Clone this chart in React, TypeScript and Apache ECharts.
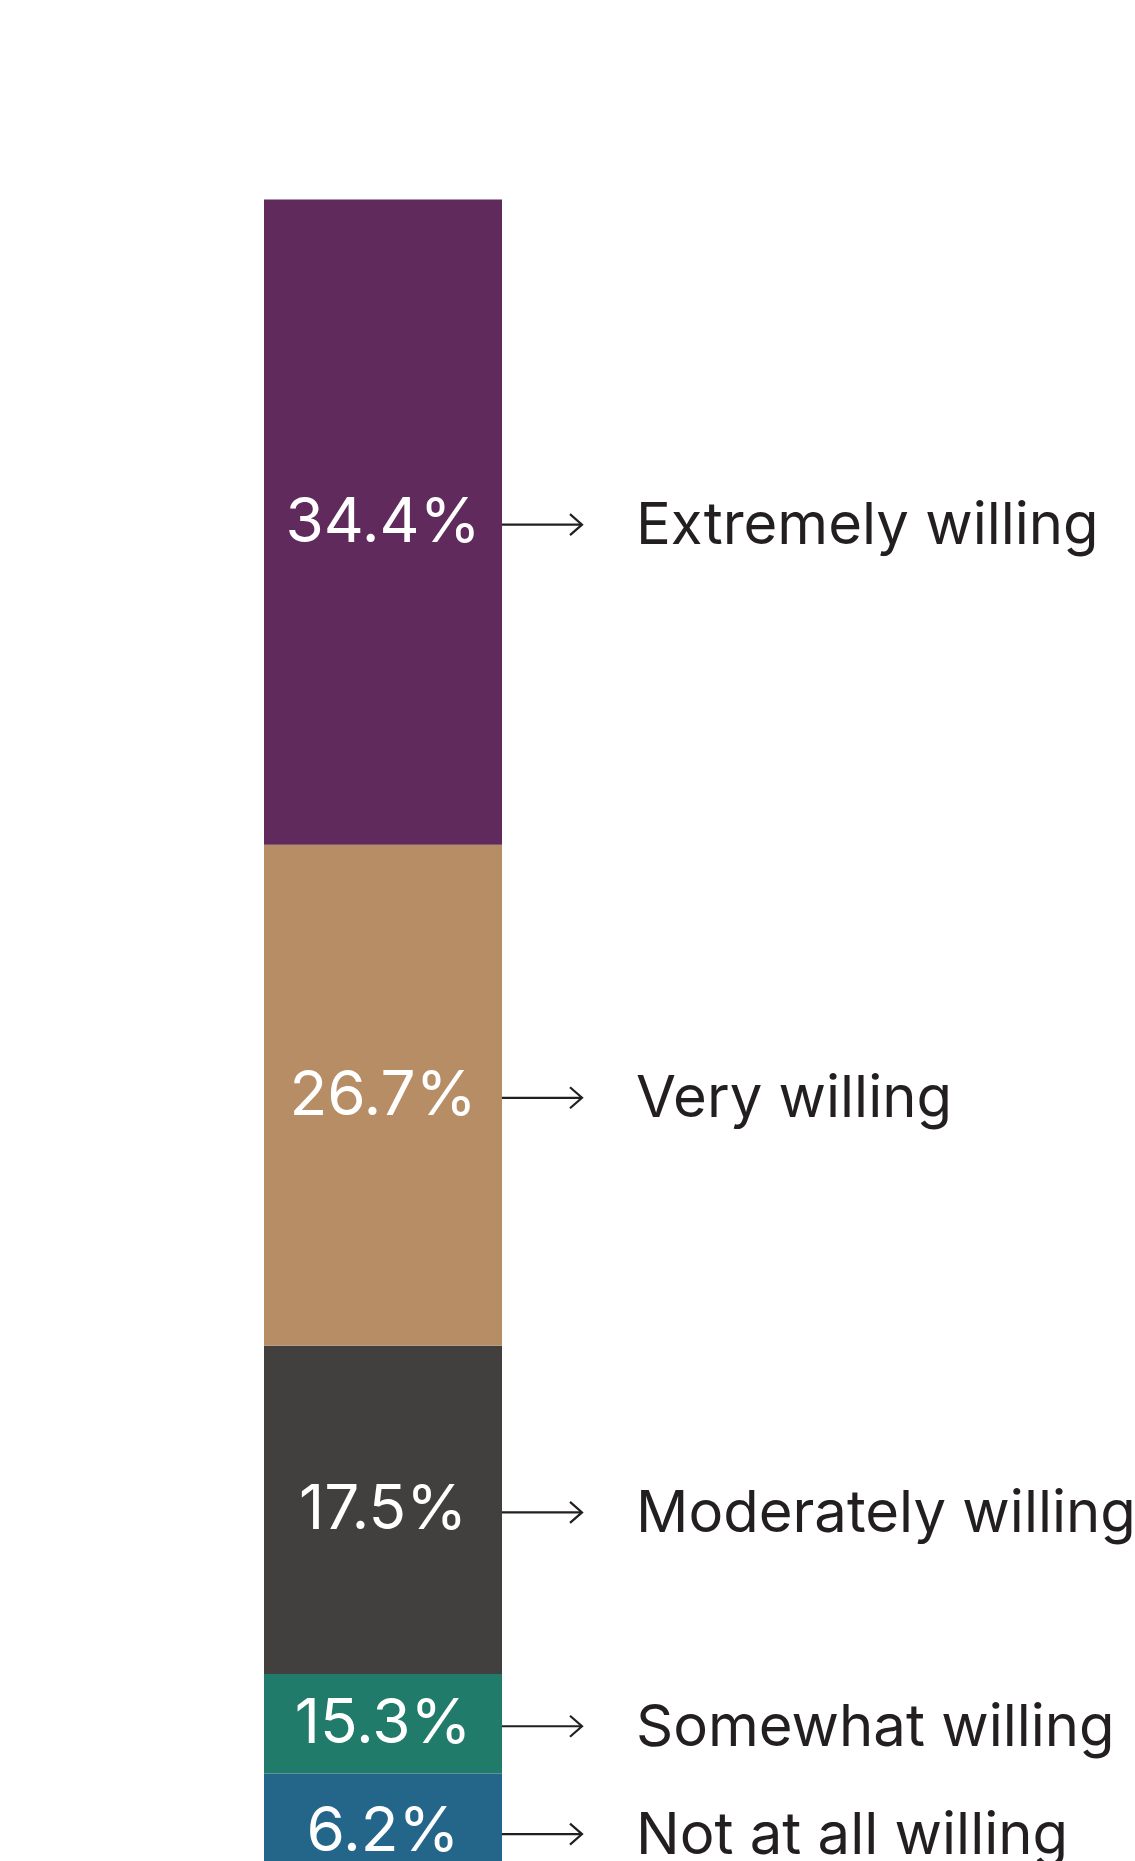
import React, { useEffect, useRef } from "react";
import * as echarts from "echarts";

// Stacked from bottom to top
const categories = ["Not at all willing", "Somewhat willing", "Moderately willing", "Very willing", "Extremely willing"];
const barHeights = [6.2, 5.3, 17.5, 26.7, 34.4];
const percentLabels = ["6.2%", "15.3%", "17.5%", "26.7%", "34.4%"];
const colors = ["#23668A", "#217B6B", "#41403E", "#B78D66", "#602A5C"];

export default function App() {
  const ref = useRef<HTMLDivElement>(null);
  useEffect(() => {
    if (!ref.current) return;
    const chart = echarts.init(ref.current, undefined, { renderer: "svg" });
    const total = barHeights.reduce((a, b) => a + b, 0);
    const centers: number[] = [];
    let acc = 0;
    barHeights.forEach((v) => {
      centers.push(acc + v / 2);
      acc += v;
    });
    const pxPerUnit = 18.76;
    const barSeries = barHeights.map((v, i) => ({
      type: "bar",
      name: categories[i],
      stack: "total",
      barWidth: "100%",
      data: [v],
      itemStyle: { color: colors[i] },
      label: {
        show: true,
        position: "inside",
        formatter: () => percentLabels[i],
        color: "#FFFFFF",
        fontFamily: "Inter",
        fontSize: 62,
        fontWeight: 400,
        offset: [0, -3],
      },
      emphasis: { disabled: true },
    }));
    chart.setOption({
      animation: false,
      grid: { left: 264, top: 199.5, width: 238, height: total * pxPerUnit },
      xAxis: { type: "category", data: ["all"], show: false, boundaryGap: true },
      yAxis: { type: "value", min: 0, max: total, show: false },
      series: [
        ...barSeries,
        {
          type: "custom",
          clip: false,
          data: centers.map((c, i) => [0, c, i]),
          encode: { x: 0, y: 1 },
          renderItem: (params: any, api: any) => {
            const idx = api.value(2);
            const p = api.coord([0, api.value(1)]);
            const half = api.size([1, 0])[0] / 2;
            const x0 = p[0] + half;
            const y = p[1] + 2.5;
            const tip = x0 + 80;
            return {
              type: "group",
              children: [
                {
                  type: "line",
                  shape: { x1: x0, y1: y, x2: tip, y2: y },
                  style: { stroke: "#231F20", lineWidth: 2.2 },
                },
                {
                  type: "polyline",
                  shape: { points: [[tip - 12, y - 10.5], [tip, y], [tip - 12, y + 10.5]] },
                  style: { stroke: "#231F20", lineWidth: 2.2, fill: "none" },
                },
                {
                  type: "text",
                  style: {
                    text: categories[idx],
                    x: x0 + 134,
                    y: p[1] + 1,
                    fill: "#231F20",
                    fontFamily: "Inter",
                    fontSize: 58,
                    align: "left",
                    verticalAlign: "middle",
                  },
                },
              ],
            };
          },
        },
      ],
    });
    return () => chart.dispose();
  }, []);
  return (
    <div style={{ position: "absolute", left: 0, top: 0, width: 1135, height: 1861, overflow: "hidden", background: "#FFFFFF" }}>
      <div ref={ref} style={{ width: 1135, height: 1920 }} />
    </div>
  );
}
